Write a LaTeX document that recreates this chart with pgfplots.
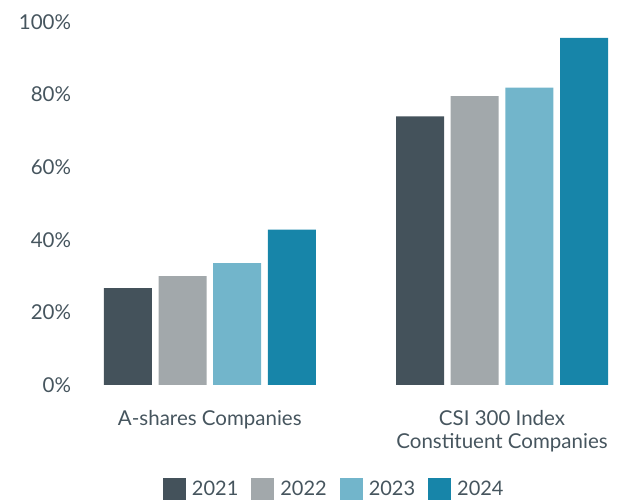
\documentclass[border=0pt]{standalone}
\usepackage{pgfplots}
\pgfplotsset{compat=1.18}
\usepackage{fontspec}
\setmainfont{Lato}
\definecolor{txt}{HTML}{46555E}
\definecolor{ca}{HTML}{44525B}
\definecolor{cb}{HTML}{A2A8AB}
\definecolor{cc}{HTML}{72B5CB}
\definecolor{cd}{HTML}{1785A9}
\begin{document}
\fontsize{20.5pt}{23.5pt}\selectfont
\begin{tikzpicture}[x=1pt,y=1pt]
\useasboundingbox (0,0) rectangle (621,500);
\begin{axis}[
  at={(80pt,115pt)}, anchor=south west,
  x=1pt, y=3.63pt,
  xmin=80, xmax=621, ymin=0, ymax=100,
  axis line style={draw=none},
  tick style={draw=none},
  clip=false,
  ytick={0,20,40,60,80,100},
  yticklabel={\pgfmathprintnumber{\tick}\%},
  /pgf/number format/assume math mode=true,
  yticklabel style={font=\fontsize{20.5pt}{23.5pt}\selectfont, text=txt, anchor=east, xshift=-2pt},
  xtick={209.8,502},
  xticklabels={A-shares Companies, {CSI 300 Index\\Constituent Companies}},
  xticklabel style={font=\fontsize{20.5pt}{23.5pt}\selectfont, text=txt, align=center, anchor=north, yshift=-18pt},
  legend columns=4,
  legend style={draw=none, at={(0.47,-0.287)}, anchor=center, text=txt, font=\fontsize{20pt}{23.5pt}\selectfont, inner sep=0pt,
    /tikz/every odd column/.append style={column sep=4pt},
    /tikz/every even column/.append style={column sep=11pt}},
  legend image code/.code={\fill[#1] (0pt,-11pt) rectangle (23pt,12pt);},
]
\addplot[ybar, bar width=48pt, bar shift=-82pt, fill=ca, draw=none] coordinates {(209.8,26.7) (502,74.0)};
\addlegendentry{2021}
\addplot[ybar, bar width=48pt, bar shift=-27.3pt, fill=cb, draw=none] coordinates {(209.8,30.0) (502,79.6)};
\addlegendentry{2022}
\addplot[ybar, bar width=48pt, bar shift=27.3pt, fill=cc, draw=none] coordinates {(209.8,33.6) (502,81.9)};
\addlegendentry{2023}
\addplot[ybar, bar width=48pt, bar shift=82pt, fill=cd, draw=none] coordinates {(209.8,42.8) (502,95.6)};
\addlegendentry{2024}
\end{axis}
\end{tikzpicture}
\end{document}
